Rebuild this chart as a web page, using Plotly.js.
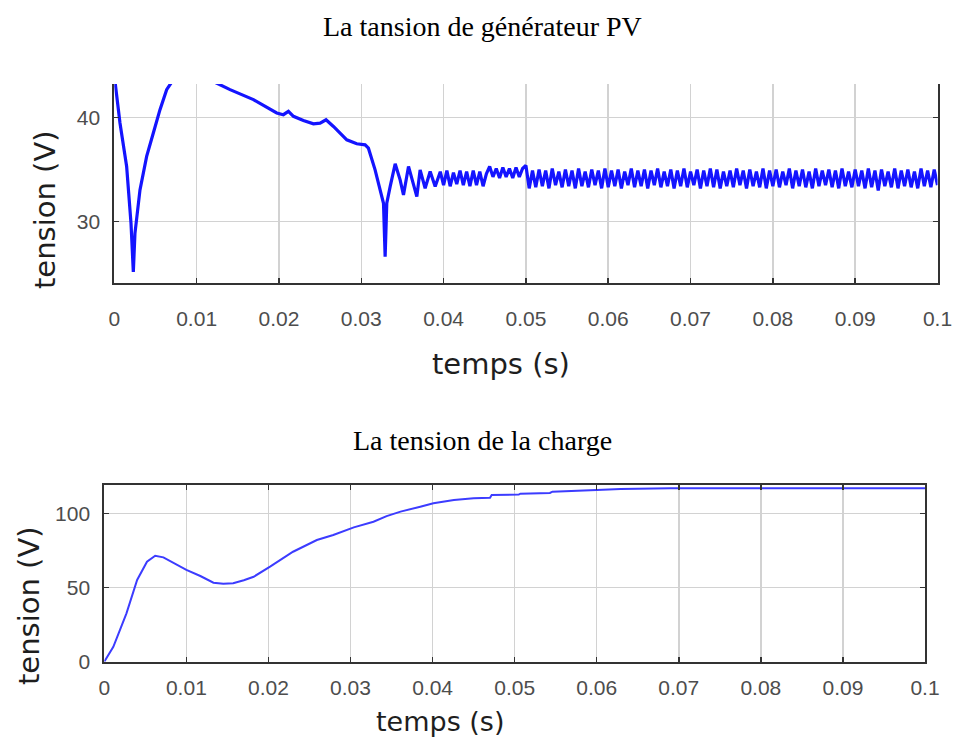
<!DOCTYPE html>
<html>
<head>
<meta charset="utf-8">
<script src="https://cdn.plot.ly/plotly-3.0.1.min.js"></script>
<style>html,body{margin:0;padding:0;background:#fff;}#chart{width:957px;height:745px;}</style>
</head>
<body>
<div id="chart"></div>
<script>
// ---------- data ----------
// Top: PV generator voltage
const pvTime = [
 0, 0.00069, 0.0015, 0.00203, 0.00231, 0.00251, 0.00312, 0.00393, 0.00474, 0.00555, 0.00636,
 0.0075, 0.009, 0.0104, 0.0116, 0.01406, 0.0169, 0.01973, 0.02054, 0.02115, 0.02176, 0.02297,
 0.02419, 0.025, 0.02572, 0.02662, 0.02824, 0.02945, 0.03047, 0.03087, 0.03168, 0.03229,
 0.0327, 0.0329, 0.0331, 0.03351, 0.03412, 0.03472, 0.03513, 0.03574, 0.03635, 0.03675,
 0.03715, 0.03776, 0.03837, 0.03898,
 0.0396,0.0400,0.0404,0.0408,0.0412,0.0416,0.0420,0.0424,0.0428,0.0432,
 0.0436,0.0440,0.0444,0.0448,0.0452,0.0456,0.0460,0.0464,0.0468,0.0472,
 0.0476,0.0480,0.0484,0.0488,0.0492,0.0496,0.0500,0.0504,0.0508,0.0512,
 0.0516,0.0520,0.0524,0.0528,0.0532,0.0536,0.0540,0.0544,0.0548,0.0552,
 0.0556,0.0560,0.0564,0.0568,0.0572,0.0576,0.0580,0.0584,0.0588,0.0592,
 0.0596,0.0600,0.0604,0.0608,0.0612,0.0616,0.0620,0.0624,0.0628,0.0632,
 0.0636,0.0640,0.0644,0.0648,0.0652,0.0656,0.0660,0.0664,0.0668,0.0672,
 0.0676,0.0680,0.0684,0.0688,0.0692,0.0696,0.0700,0.0704,0.0708,0.0712,
 0.0716,0.0720,0.0724,0.0728,0.0732,0.0736,0.0740,0.0744,0.0748,0.0752,
 0.0756,0.0760,0.0764,0.0768,0.0772,0.0776,0.0780,0.0784,0.0788,0.0792,
 0.0796,0.0800,0.0804,0.0808,0.0812,0.0816,0.0820,0.0824,0.0828,0.0832,
 0.0836,0.0840,0.0844,0.0848,0.0852,0.0856,0.0860,0.0864,0.0868,0.0872,
 0.0876,0.0880,0.0884,0.0888,0.0892,0.0896,0.0900,0.0904,0.0908,0.0912,
 0.0916,0.0920,0.0924,0.0928,0.0932,0.0936,0.0940,0.0944,0.0948,0.0952,
 0.0956,0.0960,0.0964,0.0968,0.0972,0.0976,0.0980,0.0984,0.0988,0.0992,
 0.0996,0.1000
];
const pvVolt = [
 44.0, 39.46, 35.29, 29.84, 25.19, 28.88, 33.05, 36.26, 38.50, 40.74, 42.66,
 44.0, 44.6, 44.1, 43.6, 42.66, 41.70, 40.42, 40.26, 40.58, 40.10, 39.71,
 39.39, 39.45, 39.77, 39.13, 37.85, 37.47, 37.37, 37.05, 34.97, 33.05,
 31.77, 26.64, 31.77, 33.37, 35.55, 34.01, 32.57, 35.30, 33.37, 32.41,
 34.97, 33.21, 34.81, 33.37,
 34.8,33.5,34.9,33.4,34.7,33.6,34.9,33.5,34.8,33.4,
 34.9,33.5,34.8,33.4,34.6,35.3,34.3,35.1,34.2,35.2,
 34.3,35.1,34.2,35.2,34.3,35.1,35.4,33.2,34.9,33.3,
 35.0,33.4,34.9,33.2,35.1,33.5,34.8,33.3,35.0,33.4,
 34.9,33.2,35.1,33.4,34.8,33.3,35.0,33.5,34.9,33.2,
 35.1,33.3,34.9,33.4,35.0,33.2,34.8,33.5,35.1,33.3,
 34.9,33.4,35.0,33.2,34.9,33.5,35.1,33.3,34.8,33.4,
 35.0,33.2,34.9,33.4,35.1,33.3,34.8,33.5,35.0,33.2,
 34.9,33.4,35.1,33.3,35.0,33.2,34.8,33.4,34.9,33.3,
 35.1,33.5,34.9,33.2,35.0,33.4,34.8,33.3,35.1,33.2,
 34.9,33.4,35.0,33.3,34.8,33.5,35.1,33.2,34.9,33.4,
 35.0,33.3,34.8,33.2,35.1,33.4,34.9,33.5,35.0,33.3,
 34.9,33.2,35.1,33.4,34.8,33.3,35.0,33.4,34.9,33.2,
 35.1,33.3,34.9,33.0,35.0,33.4,34.8,33.3,35.1,33.2,
 34.9,33.4,35.0,33.3,34.8,33.2,35.1,33.4,34.9,33.3,
 35.0,33.5
];
// Bottom: load voltage
const loadTime = [0, 0.0011, 0.0027, 0.0040, 0.0052, 0.0062, 0.0072, 0.0086, 0.0100, 0.0117,
 0.0133, 0.0145, 0.0157, 0.0170, 0.0182, 0.0202, 0.0230, 0.0259, 0.0279, 0.0304, 0.0328,
 0.0344, 0.0361, 0.0385, 0.0401, 0.0426, 0.0450, 0.0470, 0.0472, 0.0505, 0.0507, 0.0543,
 0.0546, 0.0600, 0.0629, 0.0690, 0.0800, 0.0900, 0.1000];
const loadVolt = [0, 10.1, 32.7, 55.2, 67.6, 71.6, 70.5, 66.0, 62.0, 57.9,
 53.4, 52.6, 53.0, 55.0, 57.4, 64.2, 74.3, 82.2, 85.6, 90.8, 94.6,
 98.4, 101.4, 104.7, 107.0, 109.3, 110.4, 110.8, 112.6, 112.9, 113.5, 114.0,
 114.9, 116.0, 116.7, 117.2, 117.2, 117.2, 117.2];

const xTickVals = [0,0.01,0.02,0.03,0.04,0.05,0.06,0.07,0.08,0.09,0.1];
const xTickText = ['0','0.01','0.02','0.03','0.04','0.05','0.06','0.07','0.08','0.09','0.1'];
const yTopTicks = [30,40];
const yBotTicks = [0,50,100];
const titleTop = 'La tansion de générateur PV';
const titleBot = 'La tension de la charge';
const xTitle = 'temps (s)';
const yTitle = 'tension (V)';

// ---------- layout helpers ----------
const W = 957, H = 745;
const fx = p => p / W;
const fy = p => 1 - p / H;

const tickFont = {family: 'Liberation Sans, Arial, sans-serif', size: 21, color: '#4d4d4d'};
const common = {
  showgrid: true, gridcolor: '#d2d2d2', gridwidth: 1.5,
  showline: true, linecolor: '#333', linewidth: 2,
  ticks: 'inside', ticklen: 5, tickcolor: '#333', tickwidth: 1.5,
  zeroline: false, tickfont: tickFont, fixedrange: true
};

const traces = [
  {x: pvTime, y: pvVolt, xaxis: 'x', yaxis: 'y', type: 'scatter', mode: 'lines',
   line: {color: '#1414ff', width: 3.2}, hoverinfo: 'skip'},
  {x: loadTime, y: loadVolt, xaxis: 'x2', yaxis: 'y2', type: 'scatter', mode: 'lines',
   line: {color: '#3c3cff', width: 2}, hoverinfo: 'skip'}
];

const layout = {
  width: W, height: H,
  margin: {l: 0, r: 0, t: 0, b: 0},
  paper_bgcolor: '#fff', plot_bgcolor: '#fff',
  showlegend: false,
  xaxis: Object.assign({}, common, {
    domain: [fx(114.3), fx(937.5)], anchor: 'y', range: [0, 0.1],
    tickvals: xTickVals, ticktext: xTickText, mirror: false, ticklabelstandoff: 15
  }),
  yaxis: Object.assign({}, common, {
    domain: [fy(283.3), fy(84)], anchor: 'x', range: [24.1, 43.2],
    tickvals: yTopTicks, ticktext: yTopTicks.map(String), mirror: 'ticks', ticklabelstandoff: 8
  }),
  xaxis2: Object.assign({}, common, {
    domain: [fx(104.3), fx(925)], anchor: 'y2', range: [0, 0.1],
    tickvals: xTickVals, ticktext: xTickText, mirror: 'ticks', ticklabelstandoff: 6
  }),
  yaxis2: Object.assign({}, common, {
    domain: [fy(661.7), fy(485)], anchor: 'x2', range: [0, 119.4],
    tickvals: yBotTicks, ticktext: yBotTicks.map(String), mirror: 'ticks', ticklabelstandoff: 8
  }),
  annotations: [
    {text: titleTop, xref: 'paper', yref: 'paper', x: fx(482), y: fy(26), xanchor: 'center', yanchor: 'middle',
     showarrow: false, font: {family: 'Liberation Serif, Times New Roman, serif', size: 28, color: '#000'}},
    {text: titleBot, xref: 'paper', yref: 'paper', x: fx(483), y: fy(440), xanchor: 'center', yanchor: 'middle',
     showarrow: false, font: {family: 'Liberation Serif, Times New Roman, serif', size: 28, color: '#000'}},
    {text: xTitle, xref: 'paper', yref: 'paper', x: fx(501), y: fy(364), xanchor: 'center', yanchor: 'middle',
     showarrow: false, font: {family: 'DejaVu Sans, sans-serif', size: 29, color: '#1e1e1e'}},
    {text: xTitle, xref: 'paper', yref: 'paper', x: fx(440), y: fy(721), xanchor: 'center', yanchor: 'middle',
     showarrow: false, font: {family: 'DejaVu Sans, sans-serif', size: 27, color: '#1e1e1e'}},
    {text: yTitle, xref: 'paper', yref: 'paper', x: fx(45), y: fy(210), xanchor: 'center', yanchor: 'middle',
     textangle: -90, showarrow: false, font: {family: 'DejaVu Sans, sans-serif', size: 29, color: '#1e1e1e'}},
    {text: yTitle, xref: 'paper', yref: 'paper', x: fx(29), y: fy(606), xanchor: 'center', yanchor: 'middle',
     textangle: -90, showarrow: false, font: {family: 'DejaVu Sans, sans-serif', size: 29, color: '#1e1e1e'}}
  ]
};

Plotly.newPlot('chart', traces, layout, {staticPlot: true, displayModeBar: false});
</script>
</body>
</html>
